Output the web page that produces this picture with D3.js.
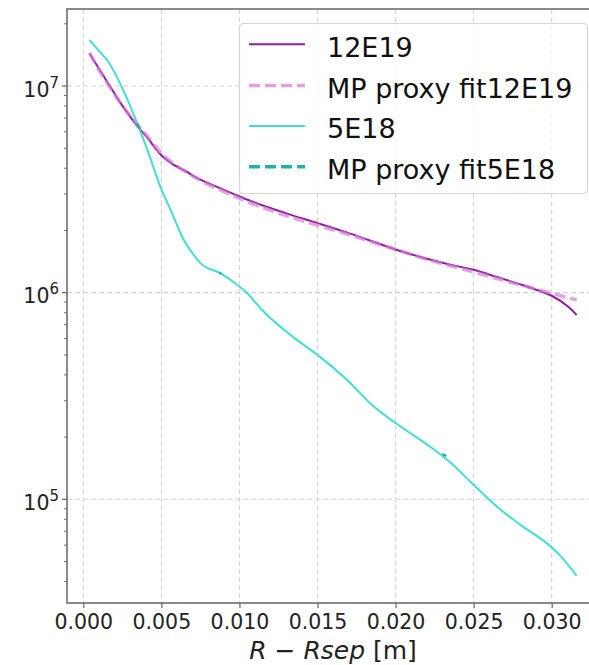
<!DOCTYPE html>
<html>
<head>
<meta charset="utf-8">
<script src="https://cdn.jsdelivr.net/npm/d3@7"></script>
<style>
  html, body { margin: 0; padding: 0; background: #fff; }
  svg { display: block; font-family: "DejaVu Sans", sans-serif; }
</style>
</head>
<body>
<svg id="chart" width="589" height="665"></svg>
<script>
// Radial positions R - Rsep [m]
const rGrid = [0.0004, 0.0010, 0.0017, 0.0025, 0.0035, 0.0042, 0.0046, 0.0050, 0.0058, 0.0065,
  0.0075, 0.0086, 0.0100, 0.0115, 0.0130, 0.0150, 0.0170, 0.0190, 0.0202, 0.0220,
  0.0240, 0.0250, 0.0265, 0.0280, 0.0290, 0.0300, 0.0310, 0.0316];

// Profile for 12E19
const prof12E19 = [1.435e7, 1.216e7, 1.0e7, 8.04e6, 6.35e6, 5.50e6, 5.01e6, 4.62e6, 4.15e6, 3.89e6,
  3.52e6, 3.24e6, 2.92e6, 2.64e6, 2.42e6, 2.17e6, 1.94e6, 1.72e6, 1.60e6, 1.46e6,
  1.34e6, 1.29e6, 1.19e6, 1.096e6, 1.033e6, 9.66e5, 8.61e5, 7.80e5];

// MP proxy fit for 12E19
const fit12E19 = [1.445e7, 1.20e7, 9.89e6, 8.04e6, 6.46e6, 5.60e6, 5.12e6, 4.72e6, 4.20e6, 3.87e6,
  3.49e6, 3.18e6, 2.86e6, 2.58e6, 2.36e6, 2.12e6, 1.91e6, 1.71e6, 1.60e6, 1.45e6,
  1.32e6, 1.26e6, 1.17e6, 1.09e6, 1.04e6, 9.93e5, 9.48e5, 9.23e5];

// Profile for 5E18
const r5E18 = [0.0004, 0.0010, 0.0016, 0.0025, 0.0035, 0.0042, 0.0050, 0.0056, 0.0064,
  0.0070, 0.0075, 0.0088, 0.0096, 0.0105, 0.0115, 0.0126, 0.0137, 0.0150, 0.0169,
  0.0186, 0.0200, 0.0222, 0.0235, 0.0250, 0.0265, 0.0280, 0.0297, 0.0305, 0.0316];
const prof5E18 = [1.67e7, 1.48e7, 1.31e7, 9.77e6, 6.46e6, 4.68e6, 3.16e6, 2.51e6, 1.82e6,
  1.55e6, 1.39e6, 1.24e6, 1.13e6, 9.93e5, 8.17e5, 6.85e5, 5.89e5, 5.0e5, 3.78e5,
  2.81e5, 2.34e5, 1.80e5, 1.51e5, 1.175e5, 9.2e4, 7.52e4, 6.12e4, 5.38e4, 4.26e4];

// MP proxy fit for 5E18 (only short finite stretches)
const rFit5E18 = [0.00345, 0.00360, 0.0070, 0.00870, 0.00885, 0.0150, 0.0230, 0.02325];
const fit5E18 = [6.6e6, 6.2e6, null, 1.245e6, 1.235e6, null, 1.66e5, 1.62e5];

const xTicks = [0.000, 0.005, 0.010, 0.015, 0.020, 0.025, 0.030];
const yMajor = [1e5, 1e6, 1e7];
const yExp = ["5", "6", "7"];

const seriesNames = ["12E19", "MP proxy fit12E19", "5E18", "MP proxy fit5E18"];

const svg = d3.select("#chart");
const L = 67, R = 599, T = 9, B = 603;

// x: 0.000 at 83.3 px, 0.030 at 551.7 px
const pxPer = (551.7 - 83.3) / 0.030;
const x = d3.scaleLinear()
  .domain([(L - 83.3) / pxPer, (R - 83.3) / pxPer])
  .range([L, R]);

// y (log): 1e7 at 86 px, 1e5 at 499.3 px
const pxDec = (499.3 - 86) / 2;
const y = d3.scaleLog()
  .domain([Math.pow(10, 5 - (B - 499.3) / pxDec), Math.pow(10, 7 + (86 - T) / pxDec)])
  .range([B, T]);

// grid
const grid = svg.append("g").attr("stroke", "#d4d4d4").attr("stroke-width", 1.1)
  .attr("stroke-dasharray", "5,3");
grid.selectAll("line.vx").data(xTicks).join("line")
  .attr("x1", d => x(d)).attr("x2", d => x(d)).attr("y1", T).attr("y2", B);
grid.selectAll("line.hy").data(yMajor).join("line")
  .attr("x1", L).attr("x2", R).attr("y1", d => y(d)).attr("y2", d => y(d));

// clip
svg.append("clipPath").attr("id", "plot")
  .append("rect").attr("x", L).attr("y", T).attr("width", R - L).attr("height", B - T);

const plot = svg.append("g").attr("clip-path", "url(#plot)");
const line = d3.line()
  .defined(d => d[1] != null)
  .x(d => x(d[0])).y(d => y(d[1]))
  .curve(d3.curveMonotoneX);

const zip = (xs, ys) => xs.map((v, i) => [v, ys[i]]);

plot.append("path").attr("d", line(zip(rGrid, prof12E19)))
  .attr("fill", "none").attr("stroke", "#8e1f99").attr("stroke-width", 2);
plot.append("path").attr("d", line(zip(rGrid, fit12E19)))
  .attr("fill", "none").attr("stroke", "#d77ad7").attr("stroke-opacity", 0.7)
  .attr("stroke-width", 3.6).attr("stroke-dasharray", "11,5");
plot.append("path").attr("d", line(zip(r5E18, prof5E18)))
  .attr("fill", "none").attr("stroke", "#40e0d0").attr("stroke-width", 2);
plot.append("path").attr("d", line(zip(rFit5E18, fit5E18)))
  .attr("fill", "none").attr("stroke", "#20a89f").attr("stroke-width", 2);

// spines
svg.append("rect").attr("x", L).attr("y", T).attr("width", R - L).attr("height", B - T)
  .attr("fill", "none").attr("stroke", "#6e6e6e").attr("stroke-width", 1.6);

// x axis
const xAxis = d3.axisBottom(x).tickValues(xTicks).tickSize(5).tickPadding(6)
  .tickFormat(d3.format(".3f"));
const gx = svg.append("g").attr("transform", `translate(0,${B})`).call(xAxis);
gx.select(".domain").remove();
gx.selectAll(".tick line").attr("stroke", "#6e6e6e").attr("stroke-width", 1.3);
gx.selectAll(".tick text").attr("font-size", 20.5).attr("fill", "#222")
  .attr("font-family", "DejaVu Sans").attr("dy", "0.71em");

// y axis: major ticks with powers of ten, minor ticks
const [lo, hi] = y.domain();
const minor = [];
for (let e = 4; e <= 7; e++) for (let m = 2; m <= 9; m++) {
  const v = m * Math.pow(10, e);
  if (v >= lo && v <= hi) minor.push(v);
}
const gy = svg.append("g");
gy.selectAll("line.minor").data(minor).join("line")
  .attr("x1", L - 3).attr("x2", L).attr("y1", d => y(d)).attr("y2", d => y(d))
  .attr("stroke", "#6e6e6e").attr("stroke-width", 1);
gy.selectAll("line.major").data(yMajor).join("line")
  .attr("x1", L - 5).attr("x2", L).attr("y1", d => y(d)).attr("y2", d => y(d))
  .attr("stroke", "#6e6e6e").attr("stroke-width", 1.3);
const yl = gy.selectAll("text").data(yMajor).join("text")
  .attr("x", 59).attr("y", d => y(d) + 10.5).attr("text-anchor", "end")
  .attr("font-size", 20.5).attr("fill", "#222");
yl.append("tspan").text("10");
yl.append("tspan").attr("font-size", 15).attr("dy", -9).text((d, i) => yExp[i]);

// x label
const xl = svg.append("text").attr("x", 333).attr("y", 659).attr("text-anchor", "middle")
  .attr("font-size", 25).attr("fill", "#222");
xl.append("tspan").attr("font-style", "italic").text("R");
xl.append("tspan").text(" \u2212 ");
xl.append("tspan").attr("font-style", "italic").text("Rsep");
xl.append("tspan").text(" [m]");

// legend
const lg = svg.append("g");
lg.append("rect").attr("x", 239.5).attr("y", 23.5).attr("width", 348).attr("height", 170)
  .attr("rx", 4).attr("fill", "#fff").attr("fill-opacity", 0.8)
  .attr("stroke", "#d6d6d6").attr("stroke-width", 1.2);
const legendStyle = [
  { c: "#8e1f99", w: 2, dash: null, op: 1 },
  { c: "#d77ad7", w: 3.6, dash: "11,5", op: 0.7 },
  { c: "#40e0d0", w: 2, dash: null, op: 1 },
  { c: "#20b2aa", w: 3.6, dash: "11,5", op: 1 }
];
const rowY = [44.3, 85.5, 126, 166.7];
seriesNames.forEach((name, i) => {
  const s = legendStyle[i];
  lg.append("line").attr("x1", 249).attr("x2", 305).attr("y1", rowY[i]).attr("y2", rowY[i])
    .attr("stroke", s.c).attr("stroke-width", s.w).attr("stroke-opacity", s.op)
    .attr("stroke-dasharray", s.dash);
  lg.append("text").attr("x", 327).attr("y", rowY[i] + 12.4)
    .attr("font-size", 27).attr("fill", "#111").text(name);
});
</script>
</body>
</html>
